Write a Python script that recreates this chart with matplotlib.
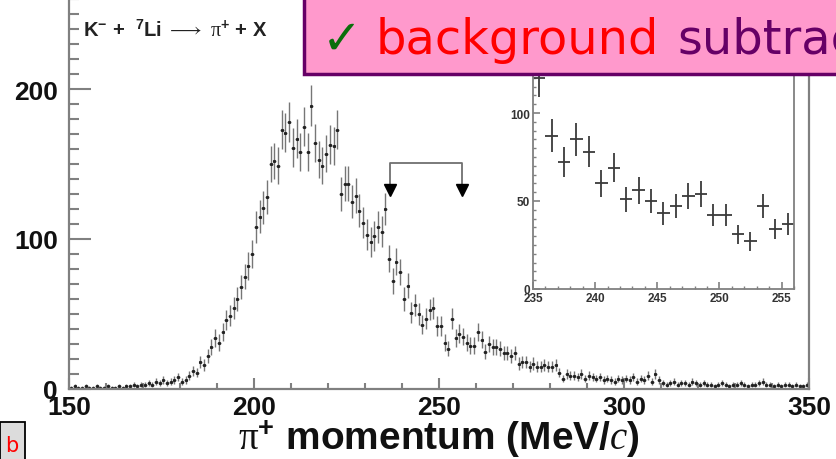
import numpy as np
import matplotlib
matplotlib.use("Agg")
import matplotlib.pyplot as plt
from matplotlib.patches import Rectangle
from matplotlib.ticker import MultipleLocator

plt.rcParams['font.family'] = ['Liberation Sans', 'DejaVu Sans']
plt.rcParams['mathtext.fontset'] = 'custom'
plt.rcParams['mathtext.rm'] = 'Liberation Serif'
plt.rcParams['mathtext.it'] = 'Liberation Serif:italic'
plt.rcParams['mathtext.bf'] = 'Liberation Sans:bold'

# ---------------- data ----------------
bin_lo = 150
bin_width = 1
counts = [
    1, 2, 1, 1, 2, 1, 1, 2, 1, 1,
    2, 1, 1, 2, 1, 2, 2, 3, 2, 3,
    3, 4, 3, 5, 4, 6, 4, 5, 6, 8,
    5, 6, 9, 12, 11, 18, 16, 22, 28, 34,
    31, 38, 46, 49, 54, 60, 68, 75, 82, 90,
    108, 115, 121, 128, 150, 152, 149, 173, 171, 178,
    161, 167, 158, 175, 158, 189, 164, 153, 149, 157,
    163, 162, 173, 130, 137, 137, 125, 129, 119, 111,
    103, 98, 102, 108, 105, 120, 87, 72, 85, 78,
    60, 69, 51, 56, 50, 43, 47, 53, 54, 42,
    42, 31, 27, 47, 34, 37, 35, 31, 29, 29,
    38, 33, 25, 30, 28, 28, 27, 24, 24, 22,
    24, 17, 18, 18, 15, 17, 15, 15, 16, 15,
    15, 16, 11, 7, 10, 9, 9, 8, 10, 7,
    9, 8, 7, 8, 6, 7, 6, 5, 7, 6,
    7, 6, 8, 5, 7, 6, 9, 5, 10, 6,
    4, 3, 4, 5, 3, 4, 4, 3, 5, 4,
    3, 4, 3, 3, 2, 3, 4, 3, 2, 3,
    3, 4, 3, 2, 3, 3, 4, 5, 3, 3,
    2, 3, 2, 3, 3, 2, 3, 2, 2, 3,
]
inset_range = (235, 256)
bracket_x = [236.8, 256.2]
main_xticks = [150, 200, 250, 300, 350]
main_yticks = [0, 100, 200]
inset_xticks = [235, 240, 245, 250, 255]
inset_yticks = [0, 50, 100]
reaction_label = (r'K$^{\mathbf{-}}$ +  $^{\mathbf{7}}$Li $\longrightarrow$ '
                  r'$\mathrm{\pi}^{\mathbf{+}}$ + X')
xlabel = r'$\mathrm{\pi}^{\mathbf{+}}$ momentum (MeV/$c$)'

counts = np.array(counts, dtype=float)
centers = bin_lo + bin_width * (np.arange(len(counts)) + 0.5)
errs = np.sqrt(counts)

W, H = 837, 460
fig = plt.figure(figsize=(W / 100, H / 100), dpi=100)

def fx(px):
    return px / W

def fy(py):
    return 1 - py / H

# ---------------- main axes ----------------
ax_l, ax_r, ax_b = 69, 809, 390
ymax = 265
ax_t = ax_b - 1.5 * ymax
ax = fig.add_axes([fx(ax_l), fy(ax_b), fx(ax_r - ax_l), (ax_b - ax_t) / H])
ax.set_xlim(150, 350)
ax.set_ylim(0, ymax)
ax.errorbar(centers, counts, xerr=bin_width / 2, yerr=errs, fmt='none',
            ecolor='#767676', elinewidth=1.0, capsize=0)
ax.plot(centers, counts, ls='none', marker='s', ms=1.2, color='#222222')

spc = '#808080'
for s in ['left', 'bottom', 'right']:
    ax.spines[s].set_color(spc)
    ax.spines[s].set_linewidth(1.6)
ax.spines['top'].set_visible(False)
ax.set_xticks(main_xticks)
ax.set_yticks(main_yticks)
ax.xaxis.set_minor_locator(MultipleLocator(10))
ax.yaxis.set_minor_locator(MultipleLocator(10))
ax.tick_params(axis='y', which='major', direction='in', length=16, width=1.5, color=spc,
               labelsize=19, pad=8)
ax.tick_params(axis='y', which='minor', direction='in', length=7, width=1.5, color=spc)
ax.tick_params(axis='x', which='major', direction='in', length=8, width=1.5, color=spc,
               labelsize=19, pad=4)
ax.tick_params(axis='x', which='minor', direction='in', length=4.5, width=1.5, color=spc)
for lab in ax.get_xticklabels() + ax.get_yticklabels():
    lab.set_fontweight('bold')
    lab.set_color('#111111')
ax.set_xlabel(xlabel, fontsize=28, fontweight='bold', labelpad=-1, color='#111111')

# bracket with arrows
ytop, ybot = 151, 135
ax.plot([bracket_x[0], bracket_x[0], bracket_x[1], bracket_x[1]],
        [ybot, ytop, ytop, ybot], color='#707070', lw=1.3)
ax.plot(bracket_x, [132.5, 132.5], ls='none', marker='v', ms=8, color='black')

fig.text(fx(83), fy(37), reaction_label, fontsize=14.5, fontweight='bold',
         color='#222222', ha='left', va='baseline')

# ---------------- inset ----------------
in_l, in_r, in_b = 533, 794, 290
in_ymax = 135
in_scale = (290 - 114) / 100.0
in_t = in_b - in_scale * in_ymax
axi = fig.add_axes([fx(in_l), fy(in_b), fx(in_r - in_l), (in_b - in_t) / H])
axi.set_xlim(*inset_range)
axi.set_ylim(0, in_ymax)
m = (centers > inset_range[0]) & (centers < inset_range[1])
axi.errorbar(centers[m], counts[m], xerr=bin_width / 2, yerr=errs[m], fmt='none',
             ecolor='#3a3a3a', elinewidth=1.3, capsize=0)
for s in axi.spines.values():
    s.set_color('#808080')
    s.set_linewidth(1.3)
axi.set_xticks(inset_xticks)
axi.set_yticks(inset_yticks)
axi.xaxis.set_minor_locator(MultipleLocator(1))
axi.yaxis.set_minor_locator(MultipleLocator(5))
axi.tick_params(which='major', direction='in', length=5, width=1.2, color='#808080',
                labelsize=8.5, pad=2)
axi.tick_params(which='minor', direction='in', length=2.5, width=1.0, color='#808080')
for lab in axi.get_xticklabels() + axi.get_yticklabels():
    lab.set_fontweight('bold')
    lab.set_color('#333333')

# ---------------- overlay annotations ----------------
box = Rectangle((fx(304), fy(75)), fx(W + 20 - 304), 75 / H + 0.05,
                transform=fig.transFigure, facecolor='#ff99cc', edgecolor='#660066',
                linewidth=2.5, zorder=20)
fig.add_artist(box)
fs = 34.5
fig.text(fx(322), fy(54), '\u2713', fontsize=fs, color='#0b6e0b', family='DejaVu Sans',
         ha='left', va='baseline', zorder=21)
fig.text(fx(376), fy(54), 'background', fontsize=fs, color='#ff0000', family='DejaVu Sans',
         ha='left', va='baseline', zorder=21)
fig.text(fx(677), fy(54), 'subtraction', fontsize=fs, color='#660066', family='DejaVu Sans',
         ha='left', va='baseline', zorder=21)

bbox = Rectangle((fx(0.5), fy(480)), fx(25), (480 - 423) / H, transform=fig.transFigure,
                 facecolor='#dcdcdc', edgecolor='black', linewidth=1.3, zorder=20)
fig.add_artist(bbox)
fig.text(fx(12), fy(452), 'b', fontsize=15, color='#ff0000', family='DejaVu Sans',
         ha='center', va='baseline', zorder=21)

fig.savefig('out.png', dpi=100)
